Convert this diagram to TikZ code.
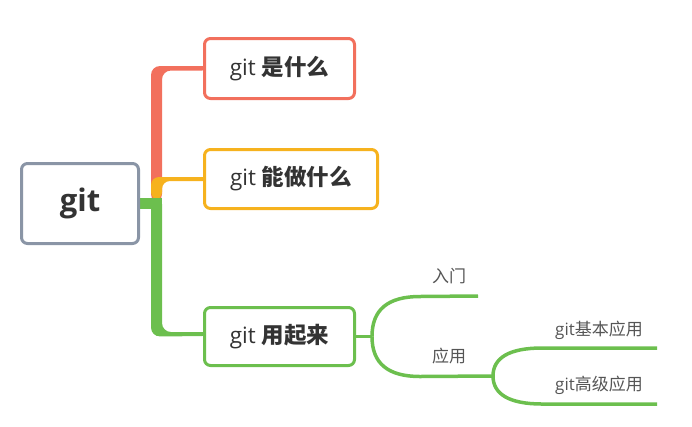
\documentclass[tikz,border=0pt]{standalone}
\usepackage{fontspec}
\setmainfont{Open Sans}
\newfontfamily\cjk{Noto Sans CJK SC}
\usetikzlibrary{calc,backgrounds}
\definecolor{cred}{HTML}{F2705D}
\definecolor{cyel}{HTML}{F6B21E}
\definecolor{cgrn}{HTML}{6CBF4E}
\definecolor{cgray}{HTML}{8A95A6}
\definecolor{ctxt}{HTML}{333333}
\definecolor{clbl}{HTML}{555555}
\begin{document}
\begin{tikzpicture}[x=1pt,y=-1pt,
  box/.style={draw, line width=3pt, rounded corners=6pt, fill=white, inner sep=0pt, text=ctxt, font=\fontsize{22.5}{26}\selectfont},
  lbl/.style={inner sep=0pt, text=clbl, font=\fontsize{17}{20}\selectfont},
  thinline/.style={draw=cgrn, line width=3.5pt}]
\useasboundingbox (0,0) rectangle (692,426);
\node[box, draw=cgray, minimum width=117pt, minimum height=80pt, font=\fontsize{31}{36}\selectfont\bfseries] (root) at (80,203.5) {git};
\node[box, draw=cred, minimum width=150pt, minimum height=60pt] (b1) at (279.5,68.5) {git {\cjk\bfseries 是什么}};
\node[box, draw=cyel, minimum width=173pt, minimum height=59pt] (b2) at (291,179) {git {\cjk\bfseries 能做什么}};
\node[box, draw=cgrn, minimum width=150pt, minimum height=58pt] (b3) at (279.5,336.5) {git {\cjk\bfseries 用起来}};
\begin{scope}[on background layer]
\fill[cred, rounded corners=9pt] (151,203) -- (151,66) -- ($(b1.west)+(8,-2.5)$) -- ($(b1.west)+(8,2)$) -- (162,70.5) -- (162,203) -- cycle;
\fill[cyel, rounded corners=8pt] (151,200) -- (151,177) -- ($(b2.west)+(8,-2)$) -- ($(b2.west)+(8,2)$) -- (162,181) -- (162,200) -- cycle;
\fill[cgrn] ($(root.east)+(-10,-5.5)$) rectangle (162,208.5);
\fill[cgrn] (162,204) [rounded corners=9pt] -- (162,332) -- ($(b3.west)+(8,-4.5)$) -- ($(b3.west)+(8,-0.5)$) -- (151,336.5) [sharp corners] -- (151,204) -- cycle;
\end{scope}
\coordinate (j1) at ($(b3.east)+(16,0)$);
\coordinate (e1) at (478,296);
\coordinate (j2) at (493,376);
\coordinate (e2) at (657,348);
\coordinate (e3) at (657,404);
\draw[thinline] (b3.east) -- (j1);
\draw[thinline] (j1) .. controls ($(j1)+(0,-27)$) and ($(j1)+(16,-40)$) .. ($(j1)+(48,-40)$) -- (e1);
\draw[thinline] (j1) .. controls ($(j1)+(0,27)$) and ($(j1)+(16,40)$) .. ($(j1)+(48,40)$) -- (j2);
\draw[thinline] (j2) .. controls ($(j2)+(0,-18)$) and ($(j2)+(16,-28)$) .. ($(j2)+(49,-28)$) -- (e2);
\draw[thinline] (j2) .. controls ($(j2)+(0,18)$) and ($(j2)+(16,28)$) .. ($(j2)+(49,28)$) -- (e3);
\node[lbl] (l1) at (449,276) {\cjk 入门};
\node[lbl] (l2) at (449,356) {\cjk 应用};
\node[lbl] (l3) at (599,330) {git{\cjk 基本应用}};
\node[lbl] (l4) at (599,385) {git{\cjk 高级应用}};
\end{tikzpicture}
\end{document}
